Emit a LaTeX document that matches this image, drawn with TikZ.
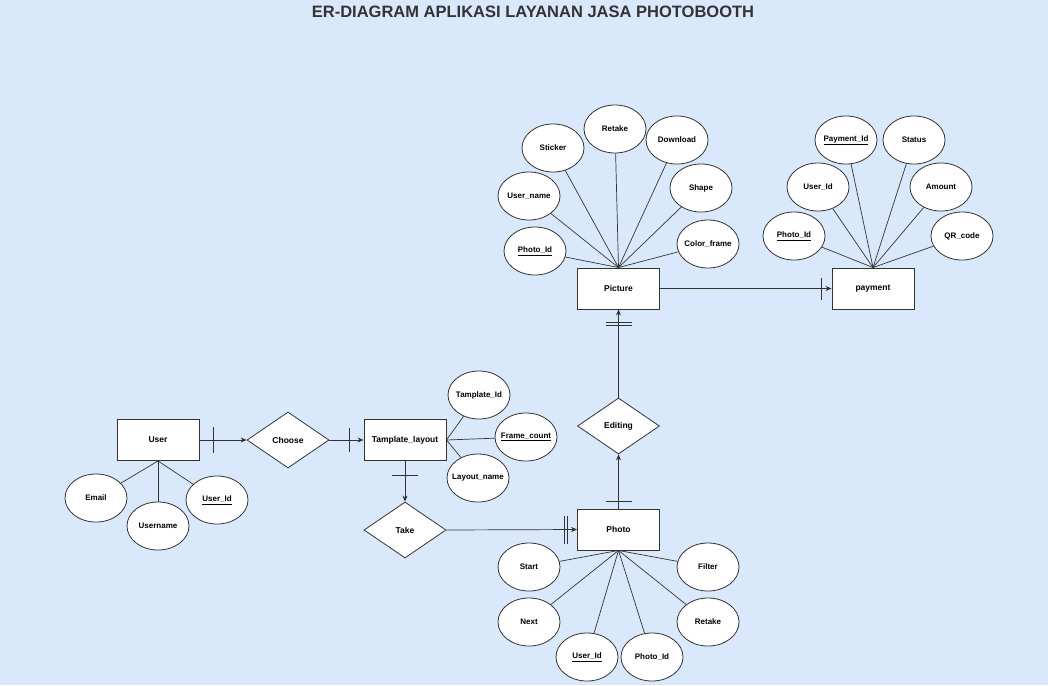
\documentclass[tikz,border=0pt]{standalone}
\usepackage{fontspec}
\setmainfont{Liberation Sans}
\usetikzlibrary{shapes.geometric,arrows.meta}
\definecolor{bg}{HTML}{DAE8FC}
\definecolor{ln}{HTML}{333333}
\tikzset{
  ent/.style={draw=ln, line width=0.9pt, fill=white, minimum width=82pt, minimum height=41pt, inner sep=0pt, font=\fontsize{8.5}{10}\selectfont\bfseries},
  attr/.style={draw=ln, line width=0.8pt, fill=white, ellipse, minimum width=62pt, minimum height=48pt, inner xsep=-6pt, inner ysep=0pt, font=\fontsize{8}{10}\selectfont\bfseries},
  rel/.style={draw=ln, line width=0.8pt, fill=white, diamond, aspect=1.46, minimum width=82pt, minimum height=56pt, inner sep=0pt, font=\fontsize{8.5}{10}\selectfont\bfseries},
  conn/.style={draw=ln, line width=0.7pt},
  arr/.style={conn, -{Stealth[length=6pt,width=5pt]}},
}
\begin{document}
\begin{tikzpicture}[x=1pt,y=-1pt]
\fill[bg] (0,0) rectangle (1048,685);
\useasboundingbox (0,0) rectangle (1048,685);
\node[font=\fontsize{16.5}{19}\selectfont\bfseries, text=ln] (title) at (533,12) {ER-DIAGRAM APLIKASI LAYANAN JASA PHOTOBOOTH};

% entities
\node[ent] (pic) at (618.5,288.5) {Picture};
\node[ent] (pay) at (873,288.5) {payment};
\node[ent] (user) at (158,440) {User};
\node[ent] (tpl) at (405,440) {Tamplate\_layout};
\node[ent] (photo) at (618.5,529.5) {Photo};

% relations
\node[rel] (choose) at (288,440) {Choose};
\node[rel] (take) at (405,530) {Take};
\node[rel] (edit) at (618.5,426) {Editing};

% Picture attributes
\node[attr] (p1) at (535,251) {\underline{Photo\_Id}};
\node[attr] (p2) at (529,196) {User\_name};
\node[attr] (p3) at (553,148) {Sticker};
\node[attr] (p4) at (615,129) {Retake};
\node[attr] (p5) at (677,140) {Download};
\node[attr] (p6) at (701,188) {Shape};
\node[attr] (p7) at (708,244) {Color\_frame};
\foreach \a in {p1,p2,p3,p4,p5,p6,p7} \draw[conn] (pic.north) -- (\a);

% payment attributes
\node[attr] (q1) at (846,140) {\underline{Payment\_Id}};
\node[attr] (q2) at (914,140) {Status};
\node[attr] (q3) at (818,187) {User\_Id};
\node[attr] (q4) at (941,187) {Amount};
\node[attr] (q5) at (794,236) {\underline{Photo\_Id}};
\node[attr] (q6) at (962,236) {QR\_code};
\foreach \a in {q1,q2,q3,q4,q5,q6} \draw[conn] (pay.north) -- (\a);

% User attributes
\node[attr] (u1) at (96,498) {Email};
\node[attr] (u2) at (158,526) {Username};
\node[attr] (u3) at (217,500) {\underline{User\_Id}};
\foreach \a in {u1,u2,u3} \draw[conn] (user.south) -- (\a);

% Template attributes
\node[attr] (t1) at (479,395) {Tamplate\_Id};
\node[attr] (t2) at (526,437) {\underline{Frame\_count}};
\node[attr] (t3) at (478,478) {Layout\_name};
\foreach \a in {t1,t2,t3} \draw[conn] (tpl.east) -- (\a);

% Photo attributes
\node[attr] (f1) at (529,567) {Start};
\node[attr] (f2) at (708,567) {Filter};
\node[attr] (f3) at (529,622) {Next};
\node[attr] (f4) at (708,622) {Retake};
\node[attr] (f5) at (587,657) {\underline{User\_Id}};
\node[attr] (f6) at (652,657) {Photo\_Id};
\foreach \a in {f1,f2,f3,f4,f5,f6} \draw[conn] (photo.south) -- (\a);

% relationships
\draw[arr] (pic.east) -- (pay.west);
\draw[conn] ([xshift=-10pt,yshift=-11pt]pay.west) -- ([xshift=-10pt,yshift=11pt]pay.west);

\draw[arr] (user.east) -- (choose.west);
\draw[conn] ([xshift=14pt,yshift=-13pt]user.east) -- ([xshift=14pt,yshift=13pt]user.east);

\draw[arr] (choose.east) -- (tpl.west);
\draw[conn] ([xshift=-14pt,yshift=-12pt]tpl.west) -- ([xshift=-14pt,yshift=12pt]tpl.west);

\draw[arr] (tpl.south) -- (take.north);
\draw[conn] ([xshift=-13pt,yshift=-14pt]tpl.south) -- ([xshift=13pt,yshift=-14pt]tpl.south);

\draw[arr] (take.east) -- (photo.west);
\draw[conn] ([xshift=-13pt,yshift=-14pt]photo.west) -- ([xshift=-13pt,yshift=14pt]photo.west);
\draw[conn] ([xshift=-10pt,yshift=-14pt]photo.west) -- ([xshift=-10pt,yshift=14pt]photo.west);

\draw[arr] (photo.north) -- (edit.south);
\draw[conn] ([xshift=-13pt,yshift=7pt]photo.north) -- ([xshift=13pt,yshift=7pt]photo.north);

\draw[arr] (edit.north) -- (pic.south);
\draw[conn] ([xshift=-13pt,yshift=-13pt]pic.south) -- ([xshift=13pt,yshift=-13pt]pic.south);
\draw[conn] ([xshift=-13pt,yshift=-16pt]pic.south) -- ([xshift=13pt,yshift=-16pt]pic.south);
\end{tikzpicture}
\end{document}
